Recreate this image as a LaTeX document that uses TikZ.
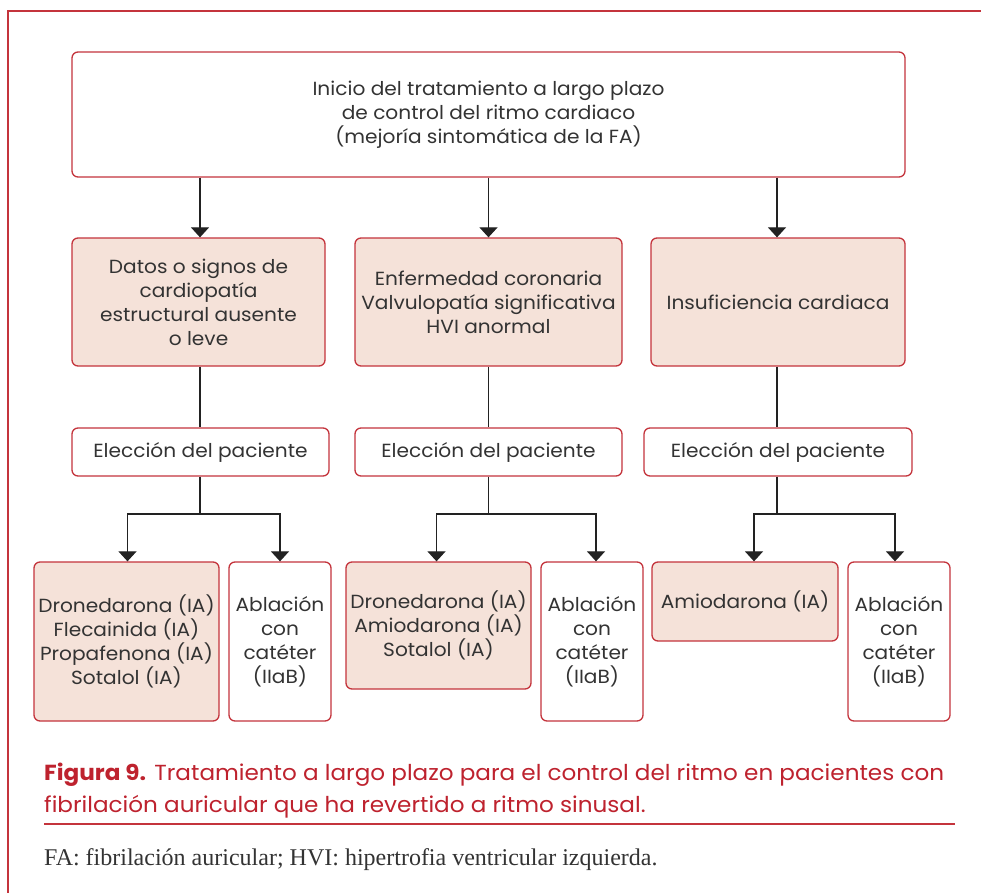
\documentclass[tikz,border=0pt]{standalone}
\usepackage{fontspec}
\setmainfont[FakeStretch=1.06]{Poppins}
\newfontfamily\notefont{Liberation Serif}
\usetikzlibrary{arrows.meta}
\definecolor{framered}{RGB}{196,52,60}
\definecolor{capred}{RGB}{190,34,46}
\definecolor{pinkfill}{RGB}{245,226,217}
\definecolor{txt}{RGB}{51,51,51}
\definecolor{linec}{RGB}{34,34,34}
\begin{document}
\begin{tikzpicture}[x=1pt,y=-1pt,
  box/.style={draw=framered, line width=1.3pt, rounded corners=6pt, align=center, text=txt,
    font=\fontsize{19}{24}\selectfont, inner sep=0pt, fill=white},
  pinkbox/.style={box, fill=pinkfill},
  conn/.style={draw=linec, line width=1.2pt},
  arr/.style={conn, -{Triangle[width=18pt,length=10pt]}},
  captext/.style={anchor=base west, inner sep=0pt, text=capred, font=\fontsize{21.8}{32}\selectfont}]
\useasboundingbox (0,0) rectangle (981,893);
\fill[white] (0,0) rectangle (981,893);
\draw[framered, line width=1.5pt] (981,11) -- (8,11) -- (8,893);

\node[box, minimum width=833pt, minimum height=125pt] (top) at (488.5,114.5)
  {Inicio del tratamiento a largo plazo\\de control del ritmo cardiaco\\(mejoría sintomática de la FA)};

\node[pinkbox, minimum width=253pt, minimum height=128pt] (A) at (198.5,302)
  {Datos o signos de\\cardiopatía\\estructural ausente\\o leve};
\node[pinkbox, minimum width=267pt, minimum height=128pt] (B) at (488.5,302)
  {Enfermedad coronaria\\Valvulopatía significativa\\HVI anormal};
\node[pinkbox, minimum width=254pt, minimum height=128pt] (C) at (778,302)
  {Insuficiencia cardiaca};

\node[box, minimum width=257pt, minimum height=48pt] (EA) at (200.5,452) {Elección del paciente};
\node[box, minimum width=267pt, minimum height=48pt] (EB) at (488.5,452) {Elección del paciente};
\node[box, minimum width=268pt, minimum height=48pt] (EC) at (778,452) {Elección del paciente};

\node[pinkbox, minimum width=185pt, minimum height=159pt] (A1) at (126.5,641.5)
  {Dronedarona (IA)\\Flecainida (IA)\\Propafenona (IA)\\Sotalol (IA)};
\node[box, minimum width=102pt, minimum height=159pt] (A2) at (280,641.5)
  {Ablación\\con\\catéter\\(IIaB)};
\node[pinkbox, minimum width=185pt, minimum height=127pt] (B1) at (438.5,625.5)
  {Dronedarona (IA)\\Amiodarona (IA)\\Sotalol (IA)};
\node[box, minimum width=102pt, minimum height=159pt] (B2) at (592,641.5)
  {Ablación\\con\\catéter\\(IIaB)};
\node[pinkbox, minimum width=186pt, minimum height=79pt] (C1) at (745,601.5)
  {Amiodarona (IA)};
\node[box, minimum width=102pt, minimum height=159pt] (C2) at (899,641.5)
  {Ablación\\con\\catéter\\(IIaB)};

% connectors
\draw[arr] (top.south -| 200,0) -- (A.north -| 200,0);
\draw[arr] (top.south) -- (B.north);
\draw[arr] (top.south -| 777,0) -- (C.north -| 777,0);

\draw[conn] (A.south -| 200,0) -- (EA.north -| 200,0);
\draw[conn] (B.south) -- (EB.north);
\draw[conn] (C.south -| 777,0) -- (EC.north -| 777,0);

\coordinate (ja) at (200,514);
\coordinate (jb) at (488.5,514);
\coordinate (jc) at (777,514);
\draw[conn] (EA.south -| ja) -- (ja);
\draw[conn] (EB.south) -- (jb);
\draw[conn] (EC.south -| jc) -- (jc);

\draw[arr] (ja) -| ([xshift=1pt]A1.north);
\draw[arr] (ja) -| (A2.north);
\draw[arr] (jb) -| ([xshift=-2pt]B1.north);
\draw[arr] (jb) -| ([xshift=4pt]B2.north);
\draw[arr] (jc) -| ([xshift=9pt]C1.north);
\draw[arr] (jc) -| ([xshift=-4pt]C2.north);

% caption
\node[captext] (cap1) at (44,780)
  {\textbf{Figura 9.} Tratamiento a largo plazo para el control del ritmo en pacientes con};
\node[captext] (cap2) at (44,812)
  {fibrilación auricular que ha revertido a ritmo sinusal.};
\draw[framered, line width=1.2pt] (44,824) -- (955,824);
\node[anchor=base west, inner sep=0pt, text=txt, font=\notefont\fontsize{24}{28}\selectfont] (note) at (44,865)
  {FA: fibrilación auricular; HVI: hipertrofia ventricular izquierda.};
\end{tikzpicture}
\end{document}
